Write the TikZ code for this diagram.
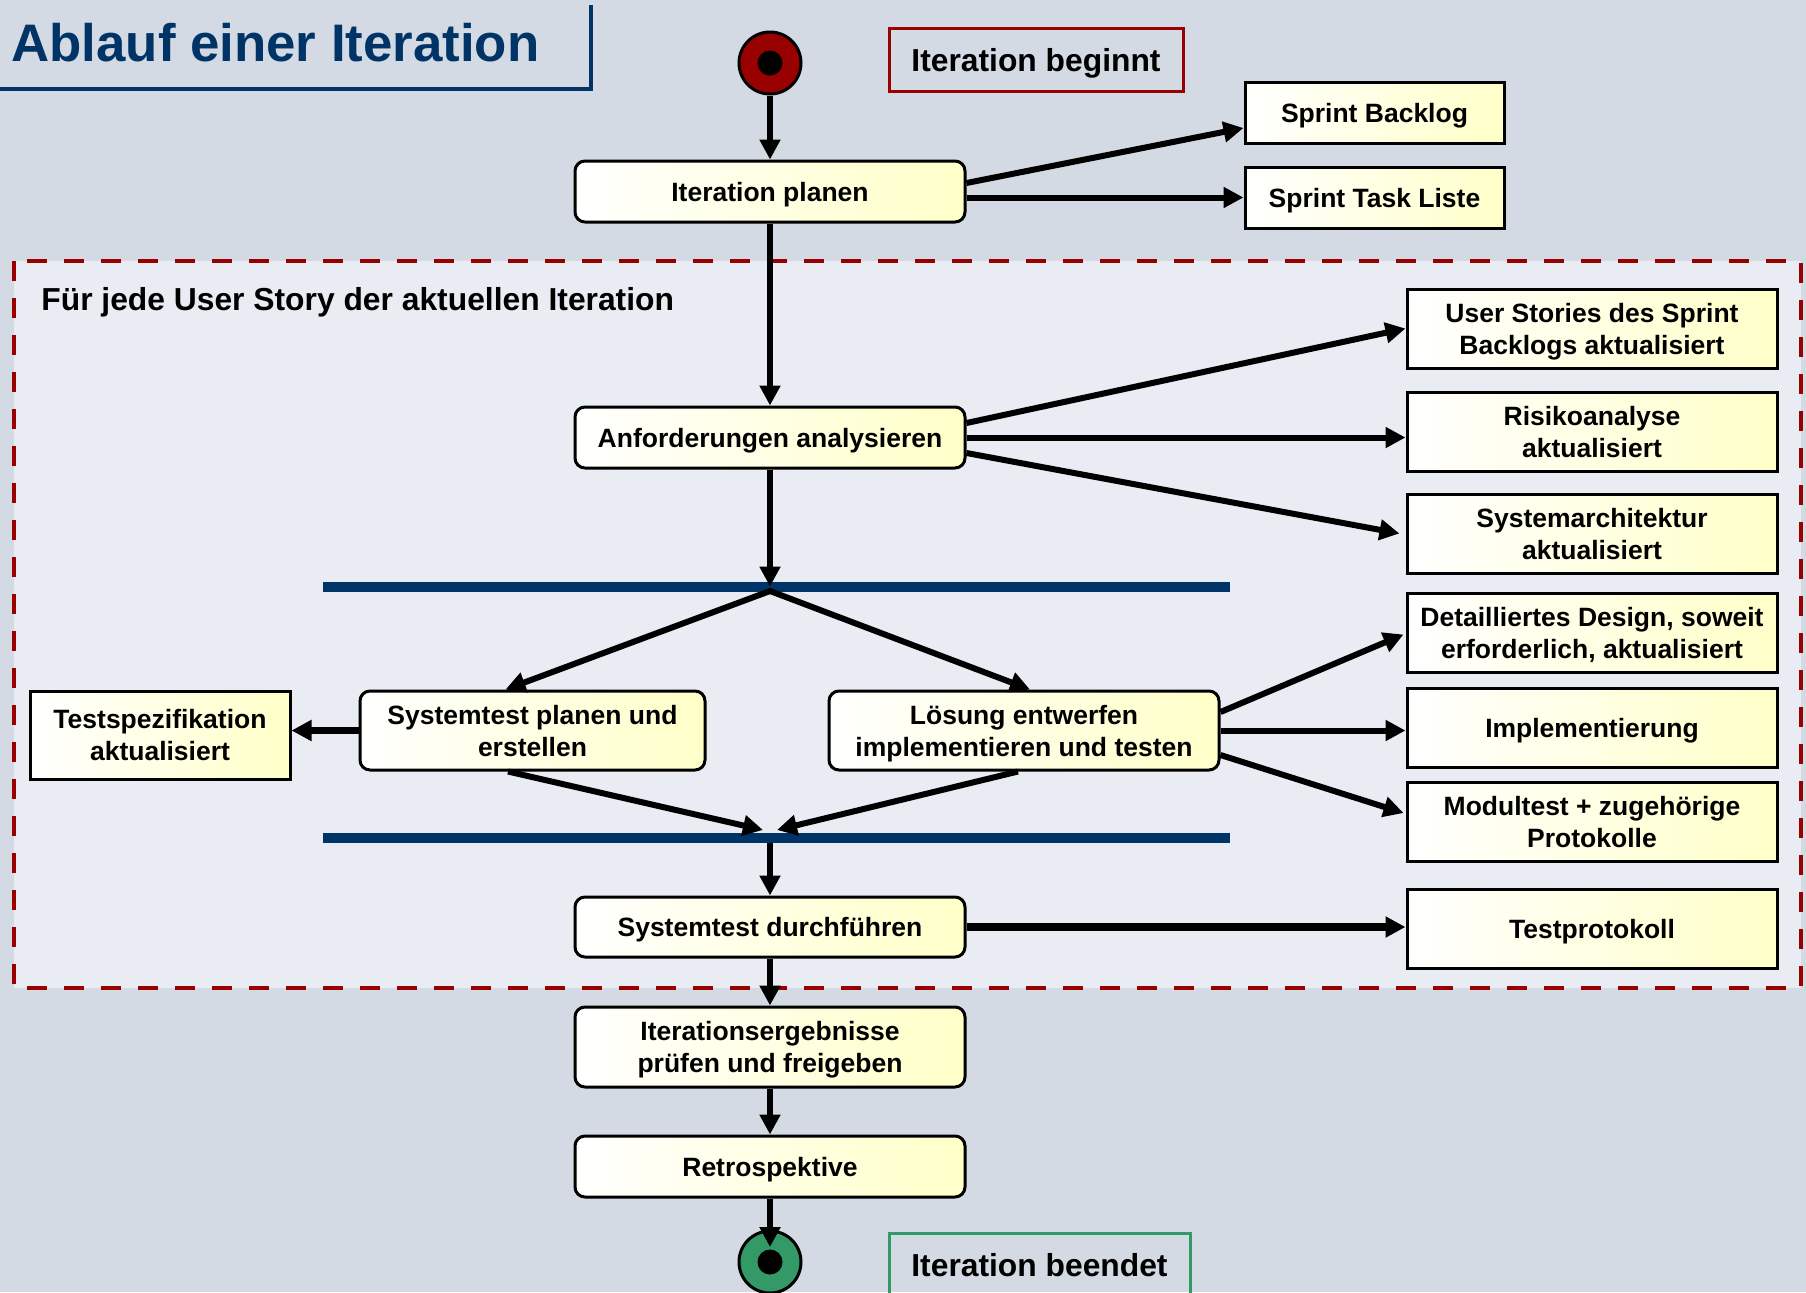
\documentclass[tikz,border=0pt]{standalone}
\usepackage{fontspec}
\setmainfont{Liberation Sans}
\usetikzlibrary{arrows.meta,calc}
\definecolor{bgout}{HTML}{D3DAE3}
\definecolor{bgin}{HTML}{E9ECF2}
\definecolor{navy}{HTML}{003366}
\definecolor{dred}{HTML}{990000}
\definecolor{dgreen}{HTML}{339966}
\definecolor{byel}{HTML}{FFFFC8}
\begin{document}
\begin{tikzpicture}[x=0.5pt,y=-0.5pt,
  every node/.style={font=\bfseries\fontsize{13.25pt}{16pt}\selectfont, inner sep=0pt, align=center},
  boxtext/.style={text depth=0pt},
  act/.style={boxtext, draw=black, line width=1.5pt, rounded corners=5pt, left color=white, right color=byel, minimum width=195pt, minimum height=30.5pt},
  outbox/.style={boxtext, draw=black, line width=1.5pt, left color=white, right color=byel, minimum width=185pt, minimum height=39.5pt},
  bigtext/.style={font=\bfseries\fontsize{15.9pt}{18pt}\selectfont},
  flow/.style={line width=3pt, -{Triangle[length=10pt,width=10pt]}},
  bar/.style={fill=navy, minimum width=453.5pt, minimum height=5pt, inner sep=0pt},
  initial/.style={circle, draw=black, line width=1.5pt, minimum size=31pt, inner sep=0pt}
]
\useasboundingbox (0,0) rectangle (1806,1292);
\fill[bgout] (0,0) rectangle (1806,1292);

% title
\node[font=\bfseries\fontsize{26.4pt}{30pt}\selectfont, text=navy, anchor=base west] (title) at (11,61) {Ablauf einer Iteration};
\draw[navy, line width=2pt] (591,5) -- (591,89) -- (-2,89);

% loop region
\draw[dred, line width=2.25pt, dash pattern=on 10pt off 8.5pt, fill=bgin] (14,261) rectangle (1801,988);
\node[bigtext, anchor=base west] (rlabel) at (41,310) {Für jede User Story der aktuellen Iteration};

% start
\node[initial, fill=dred] (start) at (770,63) {};
\fill[black] (start.center) circle[radius=6.25pt];
\node[bigtext, boxtext, draw=dred, line width=1.5pt, minimum width=147pt, minimum height=31.5pt] (beg) at (1036,60) {Iteration beginnt};

% activities
\node[act] (plan) at (770,191.5) {Iteration planen};
\node[act] (anf) at (770,437.5) {Anforderungen analysieren};
\node[act, minimum width=172.5pt, minimum height=39.5pt] (stp) at (532.5,730.5) {Systemtest planen und\\erstellen};
\node[act, minimum height=39.5pt] (loes) at (1024,730.5) {Lösung entwerfen\\implementieren und testen};
\node[act, minimum height=30pt] (std) at (770,927) {Systemtest durchführen};
\node[act, minimum height=40pt] (ierg) at (770,1047) {Iterationsergebnisse\\prüfen und freigeben};
\node[act] (retro) at (770,1166.5) {Retrospektive};

% artifacts
\node[outbox, minimum width=129.5pt, minimum height=30.5pt] (sb) at (1374.5,112.5) {Sprint Backlog};
\node[outbox, minimum width=129.5pt, minimum height=30.5pt] (stl) at (1374.5,197.5) {Sprint Task Liste};
\node[outbox] (us) at (1592,328.5) {User Stories des Sprint\\Backlogs aktualisiert};
\node[outbox] (risk) at (1592,432) {Risikoanalyse\\aktualisiert};
\node[outbox] (sysarch) at (1592,533.5) {Systemarchitektur\\aktualisiert};
\node[outbox] (design) at (1592,632.5) {Detailliertes Design, soweit\\erforderlich, aktualisiert};
\node[outbox] (impl) at (1592,728) {Implementierung};
\node[outbox] (modul) at (1592,821.5) {Modultest + zugehörige\\Protokolle};
\node[outbox] (testprot) at (1592,928.5) {Testprotokoll};
\node[outbox, minimum width=130pt, minimum height=44pt] (tspec) at (160,735) {Testspezifikation\\aktualisiert};

% bars
\node[bar] (bar1) at (776.5,586.5) {};
\node[bar] (bar2) at (776.5,838) {};

% end
\node[initial, fill=dgreen] (endc) at (770,1262) {};
\fill[black] (endc.center) circle[radius=6.25pt];
\node[bigtext, boxtext, draw=dgreen, line width=1.5pt, minimum width=150.5pt, minimum height=31.5pt] (fin) at (1039.5,1264.5) {Iteration beendet};

% connectors
\draw[flow] (start) -- (plan);
\draw[flow] ($(plan.east)+(0,-8.5)$) -- ($(sb.west)+(0,15.5)$);
\draw[flow] (plan.east |- stl.west) -- (stl.west);
\draw[flow] (plan) -- (anf);
\draw[flow] ($(anf.east)+(0,-14.5)$) -- (us.west);
\draw[flow] (anf.east) -- (anf.east -| risk.west);
\draw[flow] ($(anf.east)+(0,15.5)$) -- ($(sysarch.west)+(-6,0)$);
\draw[flow] (anf) -- (anf.south |- bar1.center);
\coordinate (fork) at (770,591);
\draw[flow, line cap=round] (fork) -- ($(stp.north)+(-27,0)$);
\draw[flow, line cap=round] (fork) -- ($(loes.north)+(6,0)$);
\draw[flow, line width=3.6pt] (stp.west) -- (stp.west -| tspec.east);
\draw[flow] ($(loes.east)+(0,-18.5)$) -- ($(design.west)+(-2,2)$);
\draw[flow] (loes.east) -- (loes.east -| impl.west);
\draw[flow] ($(loes.east)+(0,24.5)$) -- ($(modul.west)+(-2,-8.5)$);
\coordinate (joinL) at (763,830);
\coordinate (joinR) at (777,830);
\draw[flow] ($(stp.south)+(-24.5,0)$) -- (joinL);
\draw[flow] ($(loes.south)+(-6,0)$) -- (joinR);
\draw[flow] (std.north |- bar2.south) -- (std);
\draw[flow, line width=4pt] (std.east) -- (std.east -| testprot.west);
\draw[flow] (std) -- (ierg);
\draw[flow] (ierg) -- (retro);
\draw[flow] (retro) -- ($(endc.center)+(0,-15)$);
\end{tikzpicture}
\end{document}
